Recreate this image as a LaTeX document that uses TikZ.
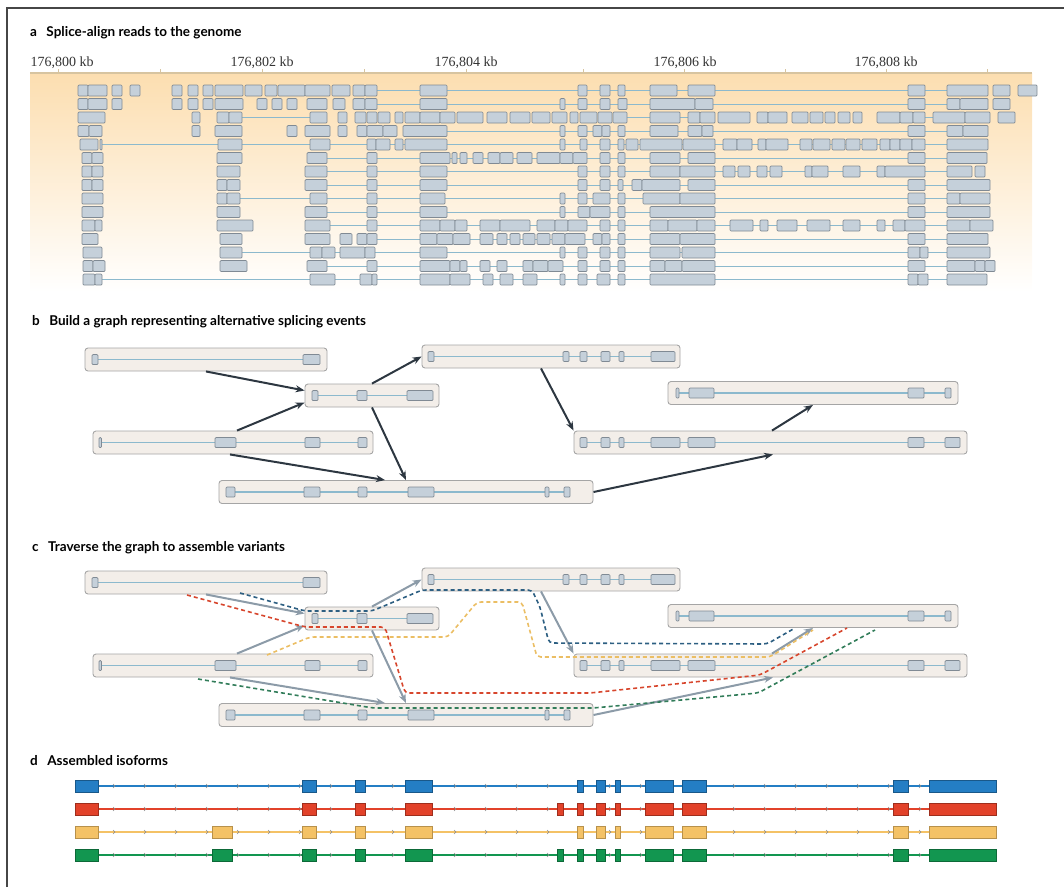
\documentclass[tikz,border=0pt]{standalone}
\usepackage{fontspec}
\usepackage{tikz}
\usetikzlibrary{arrows.meta,decorations.markings}
\newfontfamily\titlefont{Lato}
\newfontfamily\axisfont{Liberation Serif}

\definecolor{readfill}{RGB}{197,208,218}
\definecolor{readdraw}{RGB}{128,138,148}
\definecolor{readblue}{RGB}{140,185,205}
\definecolor{peach}{RGB}{252,222,176}
\definecolor{axistan}{RGB}{215,196,160}
\definecolor{gboxfill}{RGB}{243,238,233}
\definecolor{gboxdraw}{RGB}{165,165,165}
\definecolor{arrowdark}{RGB}{45,55,65}
\definecolor{arrowgray}{RGB}{140,155,168}
\definecolor{pathblue}{RGB}{45,95,130}
\definecolor{pathred}{RGB}{215,70,45}
\definecolor{pathyellow}{RGB}{235,190,100}
\definecolor{pathgreen}{RGB}{50,125,90}
\definecolor{isoblue}{RGB}{36,126,196}
\definecolor{isored}{RGB}{226,66,42}
\definecolor{isoyellow}{RGB}{244,194,102}
\definecolor{isogreen}{RGB}{18,150,80}
\definecolor{framec}{RGB}{70,70,70}

% one row of aligned reads: y, line pieces, read boxes
\newcommand{\readrow}[3]{%
  \foreach \la/\lb in {#2} \draw[readline] (\la,#1) -- (\lb,#1);
  \foreach \ba/\bb in {#3} \draw[readbox] (\ba,#1-5.5) rectangle (\bb,#1+5.5);
}
% one graph node: name, centre x, centre y, width, line from, line to, exons
\newcommand{\gnode}[7]{%
  \node[gbox, minimum width=#4pt] (#1) at (#2,#3) {};
  \draw[geneline] (#5,#3) -- (#6,#3);
  \foreach \ea/\eb in {#7} \draw[exon] (\ea,#3-5) rectangle (\eb,#3+5);
}
% the splice graph: prefix, vertical offset, arrow style
\newcommand{\splicegraph}[3]{%
  \gnode{#11}{206}{359.5+#2}{242}{92}{320}{92/98, 303/320}
  \gnode{#12}{372}{395.5+#2}{134}{312}{433}{312/318, 357/367, 407/433}
  \gnode{#13}{233}{442.5+#2}{280}{99}{367}{99/101.5, 215/236, 305/320, 358/367}
  \gnode{#14}{406}{492+#2}{374}{226}{570}{226/235, 304/320, 358/367, 408/434, 545/549, 564/570}
  \gnode{#15}{551}{356.5+#2}{258}{428}{675}{428/434, 563/569, 580/587, 601/610, 619/624, 651/675}
  \gnode{#16}{813}{393+#2}{290}{676}{951}{676/679, 689/714, 908/924, 945/951}
  \gnode{#17}{770.5}{442.5+#2}{393}{580}{960}{580/587, 601/610, 619/624, 651/680, 688/715, 908/924, 945/960}
  \draw[#3] (#11.south) -- ([yshift=5pt]#12.west);
  \draw[#3] ([xshift=4pt]#13.north) -- ([yshift=-7pt]#12.west);
  \draw[#3] (#12.north) -- (#15.west);
  \draw[#3] (#12.south) -- (#14.north);
  \draw[#3] ([xshift=-3pt]#13.south) -- ([xshift=-21pt]#14.north);
  \draw[#3] ([xshift=-10pt]#15.south) -- (#17.north west);
  \draw[#3] (#14.east) -- ([xshift=2.5pt]#17.south);
  \draw[#3] ([xshift=1.5pt]#17.north) -- (#16.south);
}
% one assembled isoform: y, colour, border colour, exons
\newcommand{\isoform}[4]{%
  \draw[#2, line width=1.6pt, chevrons] (75,#1) -- (996,#1);
  \foreach \ea/\eb in {#4} \draw[fill=#2, draw=#3, line width=0.6pt] (\ea,#1-6) rectangle (\eb,#1+6);
}

\begin{document}
\begin{tikzpicture}[
  x=1pt, y=-1pt,
  readbox/.style={fill=readfill, draw=readdraw, line width=0.7pt, rounded corners=1pt},
  readline/.style={readblue, line width=0.9pt},
  gbox/.style={rectangle, rounded corners=3pt, draw=gboxdraw, fill=gboxfill, line width=0.9pt, minimum height=23pt, inner sep=0pt},
  geneline/.style={readblue, line width=1.2pt},
  exon/.style={fill=readfill, draw=readdraw, line width=0.7pt, rounded corners=1pt},
  darrow/.style={arrowdark, line width=2pt, -{Stealth[length=9pt, width=7pt]}},
  garrow/.style={arrowgray, line width=2pt, -{Stealth[length=9pt, width=7pt]}},
  trail/.style={line width=1.6pt, dash pattern=on 4pt off 3pt, rounded corners=4pt},
  chevrons/.style={postaction={decorate}, decoration={markings,
    mark=between positions 40pt and -10pt step 31pt with {\draw[black!45, line width=0.6pt] (-2pt,2pt) -- (0pt,0pt) -- (-2pt,-2pt);}}},
  paneltitle/.style={anchor=base west, inner sep=0pt, font=\titlefont\bfseries\fontsize{13.5}{15}\selectfont},
  axislabel/.style={anchor=base, inner sep=0pt, font=\axisfont\fontsize{14}{16}\selectfont, text=black!80}
]
\useasboundingbox (0,0) rectangle (1064,887);
\draw[framec, line width=2pt] (7,887) -- (7,8) -- (1064,8);

% a
\node[paneltitle] (ta) at (30,36) {a\hspace{0.7em}Splice-align reads to the genome};
\shade[top color=peach, bottom color=white] (30,73) rectangle (1032,292);
\draw[axistan, line width=1.2pt] (30,73) -- (1032,73);
\foreach \t in {58,160,262,364,466,583,684,785,886,987}
  \draw[axistan, line width=1pt] (\t,73) -- (\t,69);
\node[axislabel] (k800) at (62,66) {176,800 kb};
\node[axislabel] (k802) at (262,66) {176,802 kb};
\node[axislabel] (k804) at (466,66) {176,804 kb};
\node[axislabel] (k806) at (685,66) {176,806 kb};
\node[axislabel] (k808) at (886,66) {176,808 kb};

\readrow{90.5}{377/988}{78/88, 88/107, 112/122, 130/140, 172/182, 188/198, 203/213, 215/243, 245/262, 265/277, 278/305, 305/330, 332/350, 353/365, 365/377, 420/447, 578/587, 600/610, 618/625, 650/677, 688/715, 908/925, 947/988, 993/1010, 1018/1037}
\readrow{104}{377/988}{78/88, 88/107, 112/122, 172/182, 188/198, 203/213, 215/243, 257/267, 272/282, 287/297, 307/327, 333/345, 353/365, 365/377, 420/447, 560/565, 578/587, 600/610, 618/627, 650/695, 695/713, 908/925, 947/960, 960/988, 993/1010}
\readrow{117.5}{242/310, 627/650, 680/688, 925/933}{78/105, 192/200, 217/229, 229/242, 310/327, 338/347, 355/366, 367/377, 378/390, 395/403, 405/420, 420/440, 440/455, 457/483, 487/507, 510/530, 532/550, 552/567, 570/578, 580/597, 598/612, 613/627, 650/680, 688/700, 700/715, 718/750, 757/768, 768/787, 792/808, 810/823, 825/835, 838/850, 853/862, 877/900, 900/913, 913/925, 933/965, 965/990, 998/1015}
\readrow{131}{447/947}{78/89, 89/102, 192/200, 215/242, 287/297, 305/330, 338/347, 357/367, 367/383, 383/397, 403/447, 560/565, 578/587, 593/602, 602/610, 618/625, 650/678, 688/702, 702/713, 908/925, 947/963, 963/988}
\readrow{144.5}{100/947}{80/98, 100/102, 218/242, 310/330, 367/376, 376/390, 395/403, 405/447, 560/565, 580/587, 600/610, 618/624, 626/638, 640/682, 683/715, 723/737, 737/752, 758/766, 766/788, 800/812, 813/830, 832/845, 846/860, 862/877, 880/890, 890/900, 900/912, 912/925, 947/988}
\readrow{158}{307/947}{82/92, 92/103, 217/242, 307/327, 367/377, 420/450, 452/457, 460/467, 473/483, 488/500, 500/513, 517/532, 537/560, 560/573, 573/587, 600/610, 618/625, 650/680, 688/715, 908/925, 947/987}
\readrow{171.5}{327/947}{82/92, 92/103, 217/240, 305/327, 367/377, 420/447, 578/587, 600/610, 618/625, 650/680, 680/715, 723/735, 738/750, 757/767, 770/782, 805/812, 812/828, 843/860, 877/885, 885/925, 947/972, 975/985}
\readrow{185}{327/947}{82/92, 92/103, 217/227, 227/240, 305/327, 367/377, 420/447, 578/587, 600/610, 618/623, 632/642, 642/680, 688/715, 908/925, 947/990}
\readrow{198.5}{240/947}{82/103, 217/227, 227/240, 310/327, 367/377, 420/445, 560/565, 578/587, 593/610, 618/625, 643/680, 680/715, 908/925, 947/960, 960/990}
\readrow{212}{327/947}{82/103, 217/240, 305/327, 367/377, 420/447, 560/565, 578/590, 590/610, 618/625, 650/715, 908/925, 947/990}
\readrow{225.5}{327/947}{82/95, 95/102, 217/253, 305/330, 367/377, 420/440, 440/455, 455/467, 480/500, 500/530, 537/555, 555/568, 568/587, 600/610, 618/625, 650/668, 668/697, 697/715, 730/753, 760/768, 777/797, 807/830, 843/860, 877/885, 893/905, 905/925, 947/970, 970/993}
\readrow{239}{377/947}{82/98, 220/242, 305/330, 340/352, 357/367, 367/377, 420/437, 437/453, 453/470, 480/493, 497/507, 510/520, 523/535, 537/550, 552/565, 565/585, 593/602, 602/610, 618/625, 650/680, 680/715, 908/925, 947/988}
\readrow{252.5}{242/947}{83/102, 220/242, 310/322, 322/335, 340/365, 365/375, 420/447, 560/565, 578/587, 600/610, 618/625, 650/680, 682/715, 908/920, 920/928, 947/990}
\readrow{266}{327/947}{83/93, 93/105, 220/247, 307/327, 367/377, 420/450, 450/460, 460/467, 480/490, 497/507, 523/533, 533/548, 548/563, 578/587, 600/610, 618/625, 650/665, 665/682, 682/715, 908/925, 947/975, 975/985, 985/995}
\readrow{279.5}{102/947}{83/95, 95/102, 310/335, 360/372, 372/377, 420/450, 450/470, 483/493, 500/513, 523/537, 560/565, 578/587, 597/610, 618/625, 650/715, 908/918, 918/928, 947/987}

% b
\node[paneltitle] (tb) at (32,325) {b\hspace{0.7em}Build a graph representing alternative splicing events};
\splicegraph{b}{0}{darrow}

% c
\node[paneltitle] (tc) at (32,551) {c\hspace{0.7em}Traverse the graph to assemble variants};
\splicegraph{c}{223}{garrow}
\draw[trail, pathblue] (240,593) -- (305,611) -- (372,611) -- (422,590) -- (532,590) -- (540,607) -- (549,643) -- (767,644) -- (795,628);
\draw[trail, pathred] (187,595) -- (305,627) -- (385,627) -- (405,693) -- (590,693) -- (760,675) -- (847,628);
\draw[trail, pathyellow] (267,655) -- (310,637) -- (448,637) -- (477,602) -- (522,602) -- (537,657) -- (770,657) -- (813,630);
\draw[trail, pathgreen] (198,679) -- (373,708) -- (593,708) -- (758,693) -- (875,630);

% d
\node[paneltitle] (td) at (30,765) {d\hspace{0.7em}Assembled isoforms};
\isoform{786}{isoblue}{isoblue!70!black}{75/98, 302/316, 355/365, 405/432, 577/583, 596/605, 615/620, 645/673, 682/706, 893/908, 929/996}
\isoform{809}{isored}{isored!70!black}{75/98, 302/316, 355/365, 405/432, 557/563, 577/583, 596/605, 615/620, 645/673, 682/706, 893/908, 929/996}
\isoform{832}{isoyellow}{isoyellow!75!black}{75/98, 212/232, 302/316, 355/365, 405/432, 577/583, 596/605, 615/620, 645/673, 682/706, 893/908, 929/996}
\isoform{855}{isogreen}{isogreen!70!black}{75/98, 212/232, 302/316, 355/365, 405/432, 557/563, 577/583, 596/605, 615/620, 645/673, 682/706, 893/908, 929/996}
\end{tikzpicture}
\end{document}
